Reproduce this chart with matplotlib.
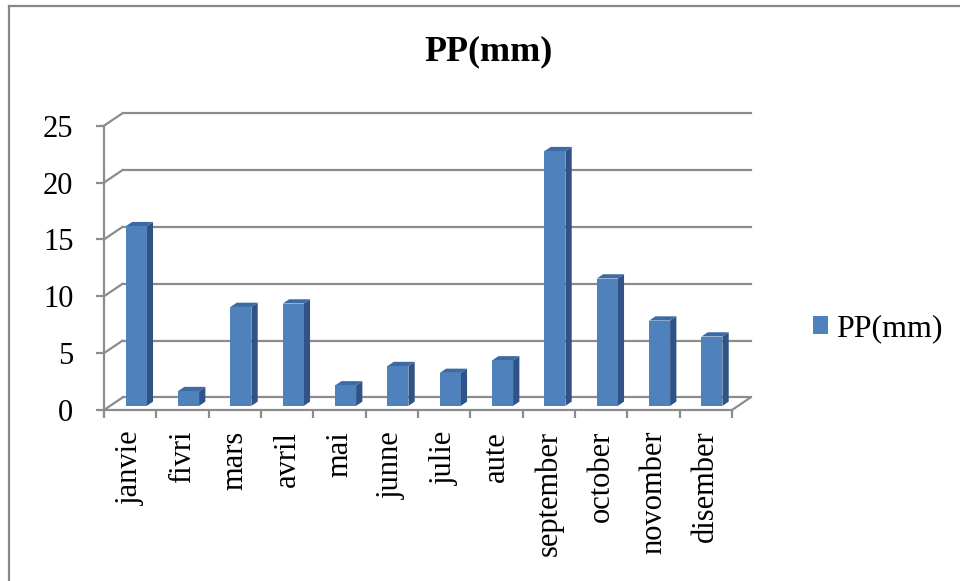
import matplotlib.pyplot as plt
from matplotlib.patches import Polygon
from matplotlib.lines import Line2D

mois = ["janvie", "fivri", "mars", "avril", "mai", "junne", "julie", "aute",
        "september", "october", "novomber", "disember"]
pp = [15.8, 1.3, 8.7, 9.0, 1.8, 3.5, 2.9, 4.0, 22.4, 11.2, 7.5, 6.1]
graduations = [0, 5, 10, 15, 20, 25]

plt.rcParams['font.family'] = ['Liberation Serif', 'DejaVu Serif']

# effet 3D : profondeur du mur du fond en unités de données
dx, dy = 0.354, 1.1
f_avant, f_arriere = 0.33, 0.67
largeur = 0.4
gris = '#8c8c8c'

fig = plt.figure(figsize=(9.6, 5.81), dpi=100)
ax = fig.add_axes([104 / 960, 171 / 581, 628 / 960, 284.3 / 581])
ax.set_xlim(-0.5, 11.5)
ax.set_ylim(0, 25)

# mur du fond, mur gauche et sol
for g in graduations:
    ax.plot([-0.5 + dx, 11.5 + dx], [g + dy, g + dy], color=gris, lw=1.6, clip_on=False, zorder=1)
    ax.plot([-0.5, -0.5 + dx], [g, g + dy], color=gris, lw=1.6, clip_on=False, zorder=1)
ax.plot([11.5, 11.5 + dx], [0, dy], color=gris, lw=1.6, clip_on=False, zorder=1)

# barres : face avant avec ax.bar, puis côté et dessus
x = [i + f_avant * dx for i in range(len(mois))]
bas = f_avant * dy
bars = ax.bar(x, pp, width=largeur, bottom=bas, color='#4f81bd', zorder=3, label='PP(mm)')
ddx = (f_arriere - f_avant) * dx
ddy = (f_arriere - f_avant) * dy
for bar in bars:
    xg = bar.get_x()
    xd = xg + bar.get_width()
    haut = bar.get_y() + bar.get_height()
    cote = Polygon([(xd, bas), (xd + ddx, bas + ddy), (xd + ddx, haut + ddy), (xd, haut)],
                   closed=True, facecolor='#2f5386', edgecolor='none', zorder=2.9)
    dessus = Polygon([(xg, haut), (xg + ddx, haut + ddy), (xd + ddx, haut + ddy), (xd, haut)],
                     closed=True, facecolor='#3d6aa2', edgecolor='none', zorder=2.9)
    ax.add_patch(cote)
    ax.add_patch(dessus)

# axes
for s in ['top', 'right']:
    ax.spines[s].set_visible(False)
for s in ['left', 'bottom']:
    ax.spines[s].set_color(gris)
    ax.spines[s].set_linewidth(1.6)
    ax.spines[s].set_zorder(4)

ax.set_yticks(graduations)
ax.set_yticklabels([str(g) for g in graduations], fontsize=22)
ax.tick_params(axis='y', direction='out', length=6, width=1.6, color=gris, pad=16)

ax.set_xticks(range(len(mois)))
ax.set_xticklabels(mois, rotation=90, fontsize=22)
ax.set_xticks([i - 0.5 for i in range(len(mois) + 1)], minor=True)
ax.tick_params(axis='x', which='major', length=0, pad=15)
ax.tick_params(axis='x', which='minor', direction='out', length=6, width=1.6, color=gris)

fig.text(489 / 960, 1 - 52 / 581, 'PP(mm)', ha='center', va='center', fontsize=26, fontweight='bold')

fig.legend(handles=[bars], labels=['PP(mm)'], loc='center left', bbox_to_anchor=(813 / 960, 1 - 329 / 581),
           frameon=False, fontsize=23, handlelength=0.48, handleheight=0.48, handletextpad=0.25,
           borderpad=0, borderaxespad=0)

# cadre du graphique
fig.add_artist(Line2D([9 / 960, 9 / 960], [0, 1 - 6 / 581], color='#878787', lw=1.6))
fig.add_artist(Line2D([9 / 960, 1], [1 - 6 / 581, 1 - 6 / 581], color='#878787', lw=1.6))

fig.savefig('out.png', dpi=100)
